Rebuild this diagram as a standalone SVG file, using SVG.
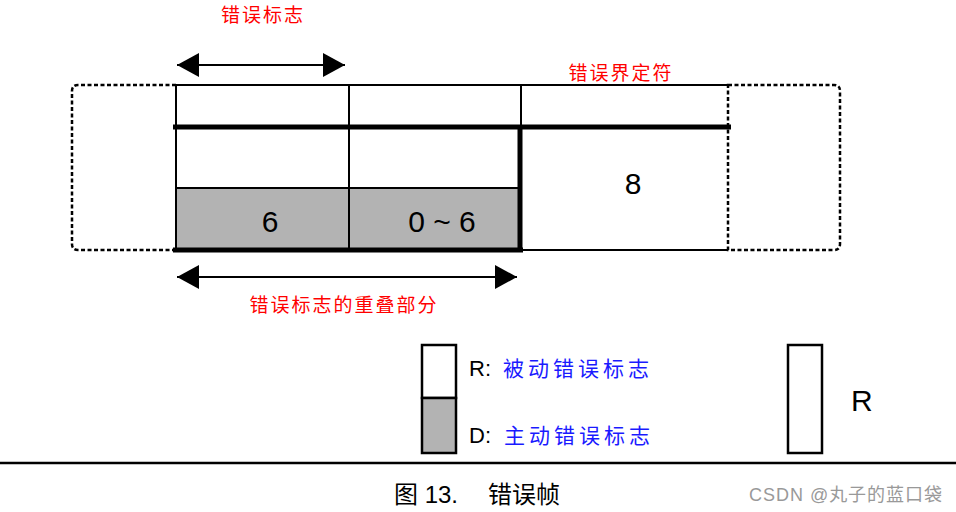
<svg xmlns="http://www.w3.org/2000/svg" width="956" height="512" viewBox="0 0 956 512">
<style>
.thin{stroke:#000;stroke-width:2;fill:none}
.thick{stroke:#000;stroke-width:5;fill:none}
.dash{stroke:#000;stroke-width:2.5;fill:none;stroke-dasharray:4 2.5}
.red{font-family:"Noto Sans CJK SC","Liberation Sans",sans-serif;font-size:19px;fill:#ff0000;letter-spacing:2px}
.num{font-family:"Liberation Sans",Arial,sans-serif;font-size:30px;fill:#000}
.leg{font-family:"Liberation Sans","Noto Sans CJK SC",sans-serif;font-size:22px;fill:#000}
.blue{font-family:"Noto Sans CJK SC",sans-serif;font-size:21px;fill:#1a1aff;letter-spacing:4px}
</style>
<defs>
<marker id="ah" viewBox="0 0 22 24" refX="22" refY="12" markerWidth="22" markerHeight="24" markerUnits="userSpaceOnUse" orient="auto-start-reverse">
<path d="M0,0 L22,12 L0,24 Z" fill="#000"/>
</marker>
</defs>
<rect width="956" height="512" fill="#fff"/>

<g id="frame">
<rect x="176" y="188" width="344" height="62" fill="#b3b3b3"/>
<path class="dash" d="M176,85 H78 Q72,85 72,91 V244 Q72,250 78,250 H176"/>
<path class="dash" d="M728,85 H834 Q840,85 840,91 V244 Q840,250 834,250 H728 Z"/>
<path class="thin" d="M176,85 H728 M176,85 V250 M349,85 V250 M521,85 V127 M176,188 H520 M520,250 H728"/>
<path class="thick" d="M173,127 H731 M520,127 V250 M173,250 H523"/>
</g>

<g id="cell-error-flag">
<text class="num" x="270" y="232" text-anchor="middle">6</text>
</g>
<g id="cell-overlap">
<text class="num" x="442" y="232" text-anchor="middle">0 ~ 6</text>
</g>
<g id="cell-delimiter">
<text class="num" x="633" y="194" text-anchor="middle">8</text>
<text class="red" x="621" y="80" text-anchor="middle">错误界定符</text>
</g>

<g id="connectors">
<line class="thin" x1="177" y1="65" x2="345" y2="65" marker-start="url(#ah)" marker-end="url(#ah)"/>
<line class="thin" x1="177" y1="277" x2="517" y2="277" marker-start="url(#ah)" marker-end="url(#ah)"/>
</g>
<g id="label-flag">
<text class="red" x="263" y="22" text-anchor="middle">错误标志</text>
</g>
<g id="label-overlap">
<text class="red" x="344" y="312" text-anchor="middle">错误标志的重叠部分</text>
</g>

<g id="legend">
<rect x="422" y="345" width="34" height="53" fill="#fff" stroke="#000" stroke-width="2.5"/>
<rect x="422" y="398" width="34" height="55" fill="#b3b3b3" stroke="#000" stroke-width="2.5"/>
<text class="leg" x="469" y="376">R: <tspan class="blue" x="503">被动错误标志</tspan></text>
<text class="leg" x="469" y="443">D: <tspan class="blue" x="504">主动错误标志</tspan></text>
</g>
<g id="legend-r">
<rect x="788" y="345" width="34" height="108" fill="#fff" stroke="#000" stroke-width="2.5"/>
<text class="num" x="851" y="411">R</text>
</g>

<line x1="0" y1="463" x2="956" y2="463" stroke="#000" stroke-width="2.5"/>
<g id="caption">
<text x="394" y="503" font-family="'Liberation Sans','Noto Sans CJK SC',sans-serif" font-size="24" fill="#000">图 13.<tspan x="488">错误帧</tspan></text>
<text x="749" y="501" font-family="'Liberation Sans','Noto Sans CJK SC',sans-serif" font-size="18" fill="#999" textLength="193" lengthAdjust="spacing">CSDN @丸子的蓝口袋</text>
</g>
</svg>
